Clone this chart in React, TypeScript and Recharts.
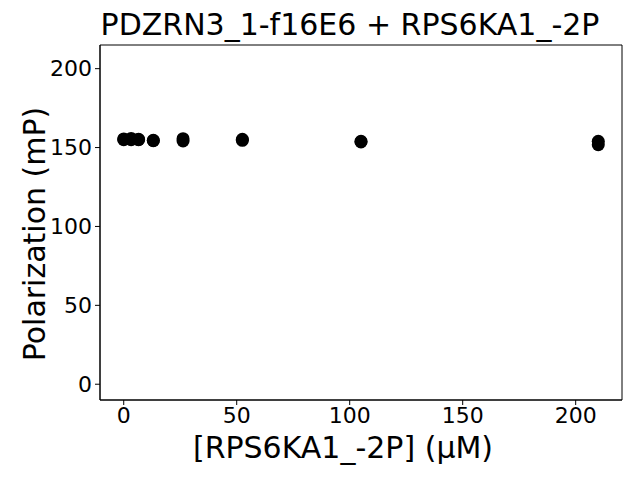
import { ScatterChart, Scatter, XAxis, YAxis, ReferenceArea } from "recharts";

const conc = [0, 3.28, 6.56, 13.1, 26.25, 52.5, 105, 210];
const rep1 = [155.5, 155.8, 155.2, 154.6, 155.6, 155.2, 154.0, 154.0];
const rep2 = [155.0, 155.0, 155.0, 154.3, 154.2, 154.6, 153.6, 151.8];
const xTicks = [0, 50, 100, 150, 200];
const yTicks = [0, 50, 100, 150, 200];

const FONT = "DejaVu Sans, sans-serif";
const tickStyle = { fill: "#000", fontSize: 22, fontFamily: FONT };
const X_DOMAIN = [-10.5, 220.5];
const Y_DOMAIN = [-10, 215];

const data1 = conc.map((x, i) => ({ x, y: rep1[i] }));
const data2 = conc.map((x, i) => ({ x, y: rep2[i] }));

const Dot = (props: any) => (
  <circle cx={props.cx} cy={props.cy} r={6.5} fill="#000" />
);

export default function App() {
  return (
    <div
      style={{
        position: "absolute",
        left: 0,
        top: 0,
        width: 640,
        height: 480,
        background: "#fff",
        fontFamily: FONT,
        color: "#000",
      }}
    >
      <ScatterChart
        width={640}
        height={480}
        margin={{ top: 45, right: 18, bottom: 0, left: 0 }}
      >
        <XAxis
          type="number"
          dataKey="x"
          domain={X_DOMAIN}
          ticks={xTicks}
          allowDataOverflow
          height={80}
          tick={tickStyle}
          tickSize={5}
          tickMargin={2}
          stroke="#000"
        />
        <YAxis
          type="number"
          dataKey="y"
          domain={Y_DOMAIN}
          ticks={yTicks}
          allowDataOverflow
          width={100}
          tick={tickStyle}
          tickSize={5}
          tickMargin={3}
          stroke="#000"
        />
        <ReferenceArea
          x1={X_DOMAIN[0]}
          x2={X_DOMAIN[1]}
          y1={Y_DOMAIN[0]}
          y2={Y_DOMAIN[1]}
          fill="none"
          stroke="#000"
          strokeWidth={1}
          ifOverflow="extendDomain"
        />
        <Scatter data={data1} shape={Dot} isAnimationActive={false} />
        <Scatter data={data2} shape={Dot} isAnimationActive={false} />
      </ScatterChart>
      <div
        style={{
          position: "absolute",
          top: 6,
          left: 50,
          width: 600,
          textAlign: "center",
          fontSize: 30,
          lineHeight: "38px",
        }}
      >
        PDZRN3_1-f16E6 + RPS6KA1_-2P
      </div>
      <div
        style={{
          position: "absolute",
          top: 429,
          left: 43,
          width: 600,
          textAlign: "center",
          fontSize: 30,
          lineHeight: "38px",
        }}
      >
        [RPS6KA1_-2P] (μM)
      </div>
      <div
        style={{
          position: "absolute",
          top: 215,
          left: 35 - 150,
          width: 300,
          textAlign: "center",
          fontSize: 30,
          lineHeight: "38px",
          transform: "rotate(-90deg)",
        }}
      >
        Polarization (mP)
      </div>
    </div>
  );
}
